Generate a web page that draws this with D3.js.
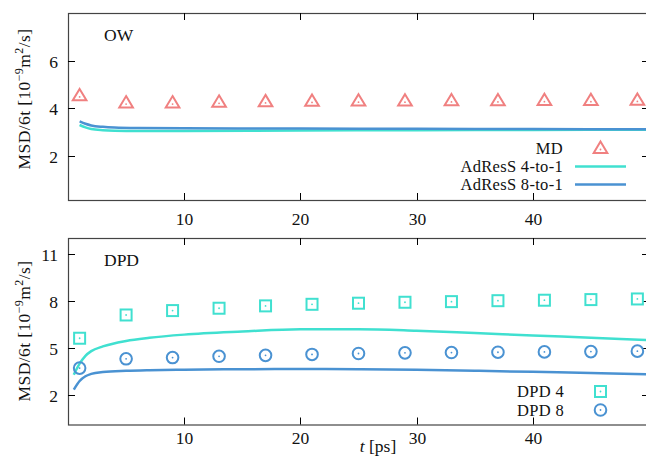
<!DOCTYPE html>
<html>
<head>
<meta charset="utf-8">
<script src="https://cdn.jsdelivr.net/npm/d3@7"></script>
<style>
  body { margin: 0; background: #fff; }
  svg { display: block; }
  text { font-family: "Liberation Serif", "Times New Roman", serif; fill: #111; }
</style>
</head>
<body>
<svg id="chart" width="646" height="457"></svg>
<script>
// ---------- DATA ----------
const xTicks = [10, 20, 30, 40];
const topYTicks = [2, 4, 6];
const bottomYTicks = [2, 5, 8, 11];

// marker times (ps)
const tMarkers = [1, 5, 9, 13, 17, 21, 25, 29, 33, 37, 41, 45, 49];
// OW panel: MD
const mdValues = [4.54, 4.24, 4.24, 4.27, 4.29, 4.31, 4.32, 4.32, 4.33, 4.33, 4.34, 4.34, 4.35];
// OW panel: AdResS lines
const tTopLines = [1, 1.5, 2, 3, 4, 6, 10, 20, 30, 40, 50];
const adress4 = [3.30, 3.20, 3.13, 3.08, 3.06, 3.05, 3.05, 3.07, 3.08, 3.09, 3.10];
const adress8 = [3.45, 3.35, 3.28, 3.22, 3.19, 3.17, 3.16, 3.15, 3.14, 3.13, 3.12];

// DPD panel: markers
const dpd4 = [5.62, 7.10, 7.38, 7.53, 7.68, 7.78, 7.85, 7.91, 7.95, 8.01, 8.04, 8.08, 8.12];
const dpd8 = [3.72, 4.31, 4.39, 4.47, 4.53, 4.59, 4.65, 4.69, 4.71, 4.73, 4.75, 4.77, 4.80];
// DPD panel: AdResS lines
const tBottomLines = [0.5, 1, 1.5, 2, 3, 5, 7, 10, 15, 20, 25, 30, 35, 40, 45, 50];
const dpdLine4 = [3.30, 4.00, 4.50, 4.80, 5.10, 5.45, 5.65, 5.85, 6.05, 6.20, 6.20, 6.10, 5.95, 5.80, 5.65, 5.50];
const dpdLine8 = [2.35, 2.90, 3.20, 3.35, 3.47, 3.55, 3.59, 3.62, 3.65, 3.66, 3.65, 3.61, 3.55, 3.48, 3.41, 3.33];

// ---------- STYLE ----------
const TURQ = "#40e0d0";
const BLUE = "#4a92d2";
const CORAL = "#f08080";
const FS = 17.5;
const LFS = 16.5;

const svg = d3.select("#chart");
const left = 68, right = 649;
const x = d3.scaleLinear().domain([0, 50]).range([left, right]);

function panel(cfg) {
  const y = d3.scaleLinear().domain(cfg.yDomain).range([cfg.bottom, cfg.top]);
  const g = svg.append("g");
  const clipId = "clip" + cfg.id;
  svg.append("clipPath").attr("id", clipId)
    .append("rect").attr("x", left).attr("y", cfg.top)
    .attr("width", right - left).attr("height", cfg.bottom - cfg.top);

  g.append("rect").attr("x", left + 0.5).attr("y", cfg.top + 0.5)
    .attr("width", right - left).attr("height", cfg.bottom - cfg.top)
    .attr("fill", "none").attr("stroke", "#444").attr("stroke-width", 1.2);

  const tl = 7;
  xTicks.forEach(v => {
    const px = Math.round(x(v)) + 0.5;
    g.append("line").attr("x1", px).attr("x2", px).attr("y1", cfg.bottom).attr("y2", cfg.bottom - tl).attr("stroke", "#000");
    g.append("line").attr("x1", px).attr("x2", px).attr("y1", cfg.top).attr("y2", cfg.top + tl).attr("stroke", "#000");
    g.append("text").attr("x", px).attr("y", cfg.xLabelY).attr("text-anchor", "middle")
      .attr("font-size", FS).text(v);
  });
  cfg.yTicks.forEach(v => {
    const py = Math.round(y(v)) + 0.5;
    g.append("line").attr("x1", left).attr("x2", left + tl).attr("y1", py).attr("y2", py).attr("stroke", "#000");
    g.append("line").attr("x1", right).attr("x2", right - tl).attr("y1", py).attr("y2", py).attr("stroke", "#000");
    g.append("text").attr("x", 58).attr("y", py + 6).attr("text-anchor", "end")
      .attr("font-size", FS).text(v);
  });

  const lab = g.append("text")
    .attr("transform", `translate(30,${cfg.labelY}) rotate(-90)`)
    .attr("text-anchor", "middle").attr("font-size", FS).attr("letter-spacing", 0.4);
  lab.append("tspan").text("MSD/6t [10");
  lab.append("tspan").attr("dy", -7).attr("font-size", 12).text("−9");
  lab.append("tspan").attr("dy", 7).text("m");
  lab.append("tspan").attr("dy", -7).attr("font-size", 12).text("2");
  lab.append("tspan").attr("dy", 7).text("/s]");

  g.append("text").attr("x", 104).attr("y", cfg.nameY).attr("font-size", FS).text(cfg.name);

  const lineGen = (ts) => d3.line().x((d, i) => x(ts[i])).y(d => y(d)).curve(d3.curveMonotoneX);
  cfg.lines.forEach(L => {
    g.append("path").datum(L.values).attr("clip-path", `url(#${clipId})`)
      .attr("d", lineGen(L.t)).attr("fill", "none").attr("stroke", L.color)
      .attr("stroke-width", 2.5).attr("stroke-linejoin", "round");
  });
  cfg.markers.forEach(M => {
    M.values.forEach((v, i) => drawMarker(g, x(M.t[i]), y(v), M.shape, M.color));
  });
  return { g, y };
}

function drawMarker(g, cx, cy, shape, color) {
  const sw = 2;
  if (shape === "triangle") {
    const r = 6.5;
    g.append("path").attr("d", `M${cx},${cy - r} L${cx + r * 1.05},${cy + r * 0.75} L${cx - r * 1.05},${cy + r * 0.75} Z`)
      .attr("fill", "none").attr("stroke", color).attr("stroke-width", sw).attr("stroke-linejoin", "miter");
    g.append("circle").attr("cx", cx).attr("cy", cy + 1.5).attr("r", 0.9).attr("fill", color);
  } else if (shape === "square") {
    const h = 5.5;
    g.append("rect").attr("x", cx - h).attr("y", cy - h).attr("width", 2 * h).attr("height", 2 * h)
      .attr("fill", "none").attr("stroke", color).attr("stroke-width", sw);
    g.append("circle").attr("cx", cx).attr("cy", cy).attr("r", 0.9).attr("fill", color);
  } else {
    g.append("circle").attr("cx", cx).attr("cy", cy).attr("r", 5.8)
      .attr("fill", "none").attr("stroke", color).attr("stroke-width", sw);
    g.append("circle").attr("cx", cx).attr("cy", cy).attr("r", 0.9).attr("fill", color);
  }
}

// ---------- TOP PANEL ----------
const topP = panel({
  id: "a", top: 13, bottom: 200, yDomain: [0.15, 8], yTicks: topYTicks,
  xLabelY: 225, labelY: 99, name: "OW", nameY: 41,
  lines: [
    { t: tTopLines, values: adress4, color: TURQ },
    { t: tTopLines, values: adress8, color: BLUE }
  ],
  markers: [{ t: tMarkers, values: mdValues, shape: "triangle", color: CORAL }]
});
const lgTop = [
  { label: "MD", y: 148, kind: "triangle", color: CORAL },
  { label: "AdResS 4-to-1", y: 166.5, kind: "line", color: TURQ },
  { label: "AdResS 8-to-1", y: 184.5, kind: "line", color: BLUE }
];
lgTop.forEach(e => {
  topP.g.append("text").attr("x", 563).attr("y", e.y + 5.5).attr("text-anchor", "end")
    .attr("font-size", LFS).attr("letter-spacing", 0.3).text(e.label);
  if (e.kind === "line") {
    topP.g.append("line").attr("x1", 575).attr("x2", 626).attr("y1", e.y).attr("y2", e.y)
      .attr("stroke", e.color).attr("stroke-width", 2.5);
  } else {
    drawMarker(topP.g, 600.5, e.y, e.kind, e.color);
  }
});

// ---------- BOTTOM PANEL ----------
const botP = panel({
  id: "b", top: 238, bottom: 424.5, yDomain: [0.13, 12], yTicks: bottomYTicks,
  xLabelY: 444, labelY: 331, name: "DPD", nameY: 266,
  lines: [
    { t: tBottomLines, values: dpdLine4, color: TURQ },
    { t: tBottomLines, values: dpdLine8, color: BLUE }
  ],
  markers: [
    { t: tMarkers, values: dpd4, shape: "square", color: TURQ },
    { t: tMarkers, values: dpd8, shape: "circle", color: BLUE }
  ]
});
const lgBot = [
  { label: "DPD 4", y: 391.5, kind: "square", color: TURQ },
  { label: "DPD 8", y: 410, kind: "circle", color: BLUE }
];
lgBot.forEach(e => {
  botP.g.append("text").attr("x", 564).attr("y", e.y + 5.5).attr("text-anchor", "end")
    .attr("font-size", LFS).attr("letter-spacing", 0.3).text(e.label);
  drawMarker(botP.g, 600.5, e.y, e.kind, e.color);
});

const xt = svg.append("text").attr("x", 378).attr("y", 452).attr("text-anchor", "middle").attr("font-size", FS);
xt.append("tspan").attr("font-style", "italic").text("t");
xt.append("tspan").text(" [ps]");
</script>
</body>
</html>
